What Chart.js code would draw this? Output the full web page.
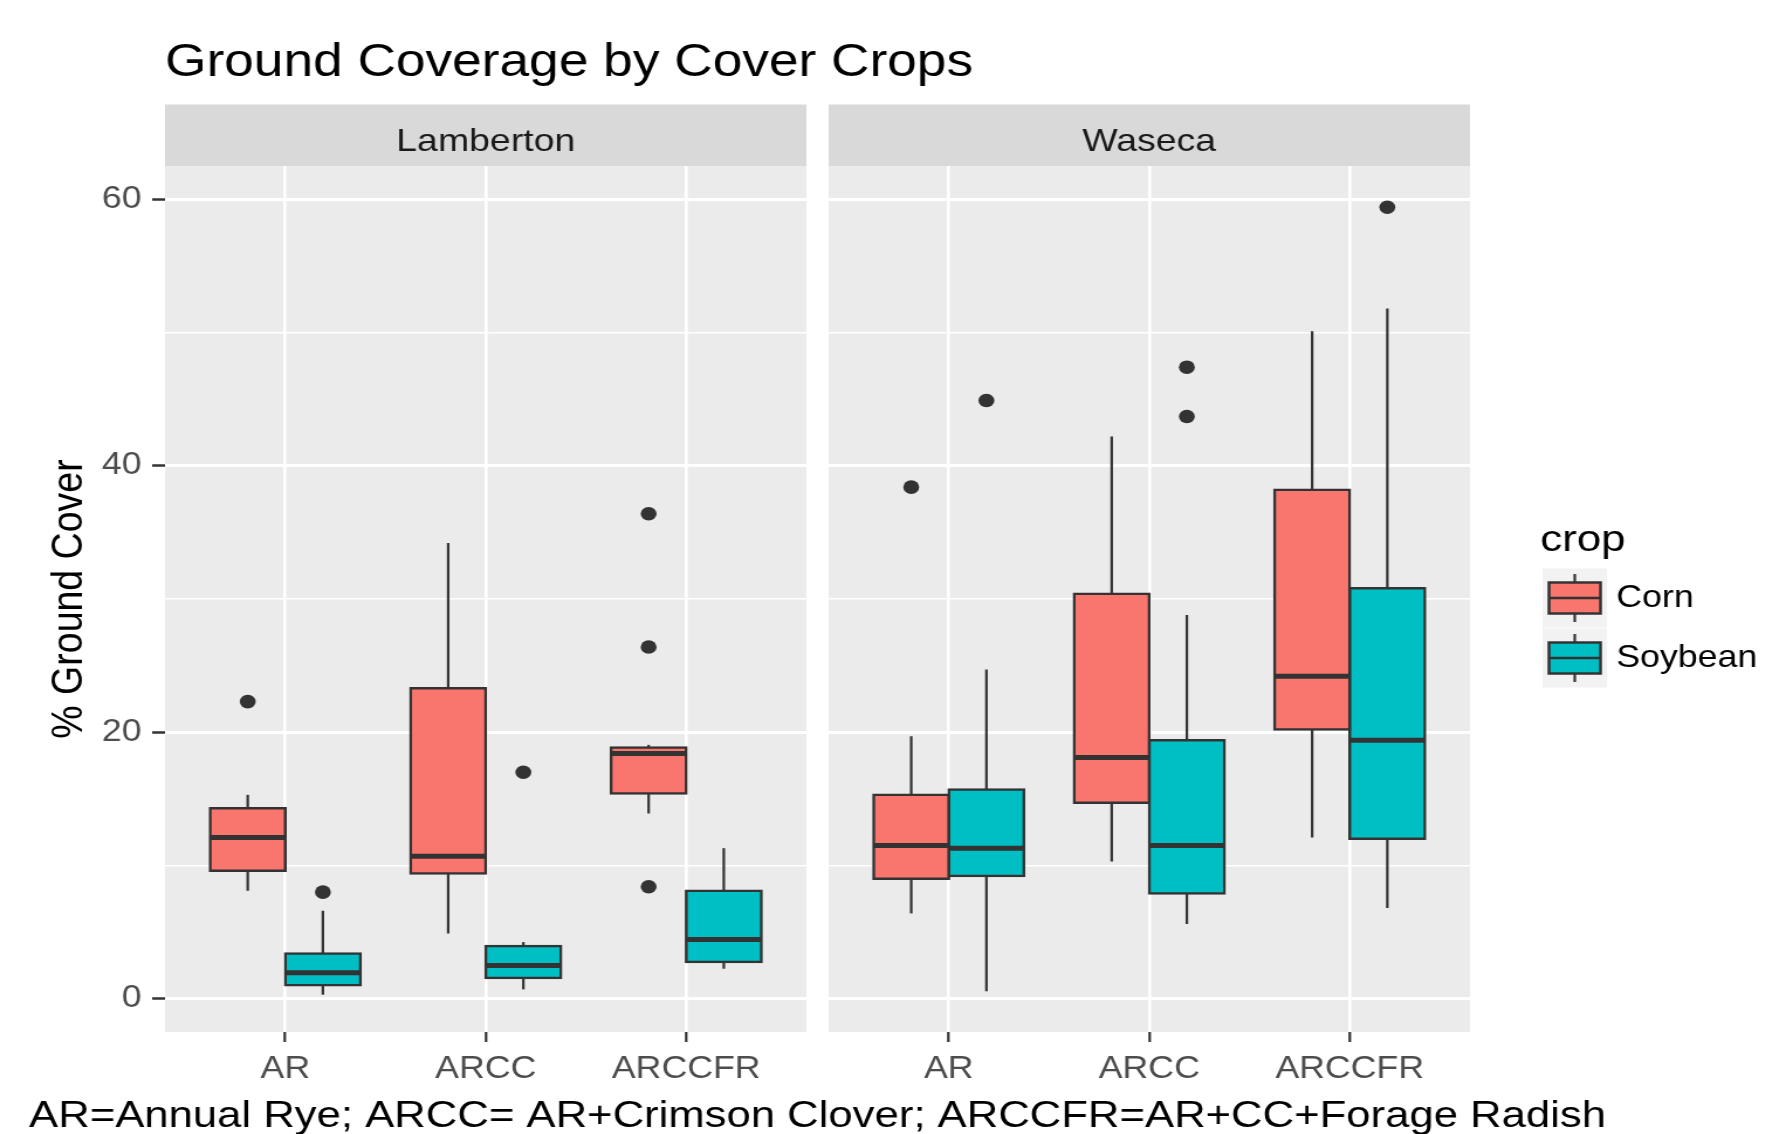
<!DOCTYPE html>
<html><head><meta charset="utf-8">
<script src="https://cdn.jsdelivr.net/npm/chart.js@4.4.1/dist/chart.umd.min.js"></script>
<style>
html,body{margin:0;padding:0;background:#fff;overflow:hidden;}
#wrap{position:absolute;left:0;top:0;width:1526px;height:1134px;transform:scaleX(1.17038);transform-origin:0 0;}
canvas{display:block;}
</style></head>
<body><div id="wrap"><canvas id="c" width="1526" height="1134" style="width:1526px;height:1134px"></canvas></div>
<script>
// ---- data (order: Lamberton AR, ARCC, ARCCFR, Waseca AR, ARCC, ARCCFR) ----
const categories = ['AR', 'ARCC', 'ARCCFR'];
const sites = ['Lamberton', 'Waseca'];
const crops = ['Corn', 'Soybean'];
const cornLow    = [8.1, 4.9, 13.9, 6.4, 10.3, 12.1];
const cornQ1     = [9.6, 9.4, 15.4, 9.0, 14.7, 20.2];
const cornMedian = [12.1, 10.7, 18.4, 11.5, 18.1, 24.2];
const cornQ3     = [14.3, 23.3, 18.85, 15.3, 30.4, 38.2];
const cornHigh   = [15.3, 34.2, 19.05, 19.7, 42.2, 50.1];
const cornOutliers = [[22.3], [], [36.4, 26.4, 8.4], [38.4], [], []];
const soyLow    = [0.3, 0.7, 2.25, 0.55, 5.6, 6.8];
const soyQ1     = [1.0, 1.55, 2.75, 9.2, 7.9, 12.0];
const soyMedian = [1.95, 2.5, 4.45, 11.3, 11.5, 19.4];
const soyQ3     = [3.4, 3.95, 8.1, 15.7, 19.4, 30.8];
const soyHigh   = [6.6, 4.25, 11.3, 24.7, 28.8, 51.8];
const soyOutliers = [[8.0], [17.0], [], [44.9], [47.4, 43.7], [59.4]];
const yTicks = [0, 20, 40, 60];
const titleText = 'Ground Coverage by Cover Crops';
const yTitle = '% Ground Cover';
const legendTitle = 'crop';
const captionText = 'AR=Annual Rye; ARCC= AR+Crimson Clover; ARCCFR=AR+CC+Forage Radish';

// ---- layout helpers ----
const FONT = '"Liberation Sans", Arial, Helvetica, sans-serif';
const EXPAND = 0.6, GAP = 0.11, DODGE = 0.75;
const PANEL_SHIFT = categories.length - 1 + 2 * EXPAND + GAP;
const X_MIN = 1 - EXPAND;
const X_MAX = categories.length + EXPAND + PANEL_SHIFT;
const positions = [];
sites.forEach((s, si) => categories.forEach((c, ci) => positions.push(ci + 1 + si * PANEL_SHIFT)));
const COLORS = { Corn: '#F8766D', Soybean: '#00BFC4' };
const LINE = '#333333';

function boxData(q1, q3) { return positions.map((x, i) => ({ x, y: [q1[i], q3[i]] })); }
function outlierData(outs, shift) {
  const pts = [];
  outs.forEach((arr, i) => arr.forEach(v => pts.push({ x: positions[i] + shift, y: v })));
  return pts;
}

const ggPlugin = {
  id: 'gg',
  beforeDraw(chart) {
    const { ctx, chartArea: a, scales: { x } } = chart;
    ctx.save();
    ctx.fillStyle = '#fff';
    ctx.fillRect(0, 0, chart.width, chart.height);
    for (let s = 0; s < sites.length; s++) {
      const l = x.getPixelForValue(X_MIN + s * PANEL_SHIFT);
      const r = x.getPixelForValue(X_MIN + s * PANEL_SHIFT + categories.length - 1 + 2 * EXPAND);
      ctx.fillStyle = '#EBEBEB';
      ctx.fillRect(l, a.top, r - l, a.bottom - a.top);
      ctx.fillStyle = '#D9D9D9';
      ctx.fillRect(l, a.top - 61.5, r - l, 61.5);
      ctx.fillStyle = '#1A1A1A';
      ctx.font = `32px ${FONT}`;
      ctx.textAlign = 'center';
      ctx.textBaseline = 'alphabetic';
      ctx.fillText(sites[s], (l + r) / 2, 150.5);
    }
    ctx.fillStyle = '#000';
    ctx.font = `45.5px ${FONT}`;
    ctx.textAlign = 'left';
    ctx.fillText(titleText, a.left, 76);
    ctx.restore();
  },
  beforeDatasetsDraw(chart) {
    const { ctx, chartArea: a, scales: { x } } = chart;
    const l = x.getPixelForValue(X_MIN + categories.length - 1 + 2 * EXPAND);
    const r = x.getPixelForValue(X_MIN + PANEL_SHIFT);
    ctx.save();
    ctx.fillStyle = '#fff';
    ctx.fillRect(l, a.top - 70, r - l, a.bottom - a.top + 71);
    ctx.restore();
  },
  afterDatasetsDraw(chart) {
    const { ctx, scales: { y } } = chart;
    [[0, cornMedian], [1, soyMedian]].forEach(([di, med]) => {
      const meta = chart.getDatasetMeta(di);
      meta.data.forEach((el, i) => {
        const { x, width } = el.getProps(['x', 'width'], true);
        const py = y.getPixelForValue(med[i]);
        ctx.save();
        ctx.strokeStyle = LINE;
        ctx.lineWidth = 5;
        ctx.beginPath();
        ctx.moveTo(x - width / 2, py);
        ctx.lineTo(x + width / 2, py);
        ctx.stroke();
        ctx.restore();
      });
    });
  },
  afterDraw(chart) {
    const { ctx, chartArea: a } = chart;
    ctx.save();
    // caption (x axis title)
    ctx.fillStyle = '#000';
    ctx.font = `37.3px ${FONT}`;
    ctx.textAlign = 'center';
    ctx.textBaseline = 'alphabetic';
    ctx.fillText(captionText, (a.left + a.right) / 2, 1127);
    // legend
    ctx.font = `37.5px ${FONT}`;
    ctx.textAlign = 'left';
    ctx.fillText(legendTitle, 1316, 551);
    const kx = 1318, kw = 55, kh = 59;
    crops.forEach((c, i) => {
      const ky = 568.5 + i * (kh + 1);
      const cy = ky + kh / 2;
      const cx = kx + kw / 2;
      ctx.fillStyle = '#F2F2F2';
      ctx.fillRect(kx, ky, kw, kh);
      ctx.strokeStyle = LINE;
      ctx.lineWidth = 2.2;
      ctx.beginPath();
      ctx.moveTo(cx, cy - 24); ctx.lineTo(cx, cy + 24);
      ctx.stroke();
      const bx = kx + kw * 0.1, bw = kw * 0.8;
      ctx.fillStyle = COLORS[c];
      ctx.fillRect(bx, cy - 15.5, bw, 31);
      ctx.lineWidth = 2.5;
      ctx.strokeRect(bx, cy - 15.5, bw, 31);
      ctx.beginPath();
      ctx.moveTo(bx, cy); ctx.lineTo(bx + bw, cy);
      ctx.stroke();
      ctx.fillStyle = '#000';
      ctx.font = `30.5px ${FONT}`;
      ctx.textBaseline = 'middle';
      ctx.fillText(c, 1381, cy + 1);
    });
    ctx.restore();
  }
};

Chart.defaults.font.family = FONT;

new Chart(document.getElementById('c'), {
  type: 'bar',
  data: {
    datasets: [
      { label: 'Corn', data: boxData(cornQ1, cornQ3), stack: 'Corn', order: 1,
        backgroundColor: COLORS.Corn, borderColor: LINE, borderWidth: 2.5, borderSkipped: false,
        inflateAmount: 1.25, categoryPercentage: DODGE, barPercentage: 1 },
      { label: 'Soybean', data: boxData(soyQ1, soyQ3), stack: 'Soybean', order: 1,
        backgroundColor: COLORS.Soybean, borderColor: LINE, borderWidth: 2.5, borderSkipped: false,
        inflateAmount: 1.25, categoryPercentage: DODGE, barPercentage: 1 },
      { label: 'Corn whisker', data: boxData(cornLow, cornHigh), stack: 'Corn', order: 2,
        backgroundColor: LINE, borderWidth: 0, inflateAmount: 0, maxBarThickness: 2.2,
        categoryPercentage: DODGE, barPercentage: 1 },
      { label: 'Soybean whisker', data: boxData(soyLow, soyHigh), stack: 'Soybean', order: 2,
        backgroundColor: LINE, borderWidth: 0, inflateAmount: 0, maxBarThickness: 2.2,
        categoryPercentage: DODGE, barPercentage: 1 },
      { type: 'scatter', label: 'Corn outliers', data: outlierData(cornOutliers, -DODGE / 4), order: 0,
        pointRadius: 6.8, pointBackgroundColor: LINE, pointBorderWidth: 0 },
      { type: 'scatter', label: 'Soybean outliers', data: outlierData(soyOutliers, DODGE / 4), order: 0,
        pointRadius: 6.8, pointBackgroundColor: LINE, pointBorderWidth: 0 }
    ]
  },
  options: {
    responsive: false,
    devicePixelRatio: 1,
    animation: false,
    events: [],
    layout: { padding: { top: 166, right: 270, bottom: 0, left: 0 } },
    plugins: { legend: { display: false }, tooltip: { enabled: false }, title: { display: false } },
    scales: {
      x: {
        type: 'linear', min: X_MIN, max: X_MAX, offset: false,
        grid: { offset: false, color: '#FFFFFF', lineWidth: 2.6, tickLength: 10, tickColor: LINE, tickWidth: 2.2, drawTicks: true },
        border: { display: false },
        afterBuildTicks: s => { s.ticks = positions.map(v => ({ value: v })); },
        afterFit: s => { s.height = 102; },
        ticks: { autoSkip: false, maxRotation: 0, minRotation: 0, padding: 9.5,
          font: { size: 30.5, family: FONT }, color: '#4D4D4D',
          callback: (v, i) => categories[i % categories.length] }
      },
      y: {
        type: 'linear', min: -2.5, max: 62.5, stacked: false,
        grid: {
          color: '#FFFFFF',
          lineWidth: c => yTicks.includes(c.tick.value) ? 3 : 1.5,
          tickLength: 11,
          tickColor: c => yTicks.includes(c.tick.value) ? LINE : 'rgba(0,0,0,0)',
          tickWidth: 2.5
        },
        border: { display: false },
        afterFit: s => { s.width = 141; },
        ticks: { stepSize: 10, includeBounds: false, padding: 9,
          font: { size: 30.5, family: FONT }, color: '#4D4D4D',
          callback: v => yTicks.includes(v) ? String(v) : '' },
        title: { display: true, text: yTitle, color: '#000', font: { size: 37.5, family: FONT },
          padding: { top: 37, bottom: 0 } }
      }
    }
  },
  plugins: [ggPlugin]
});
</script>
</body></html>
